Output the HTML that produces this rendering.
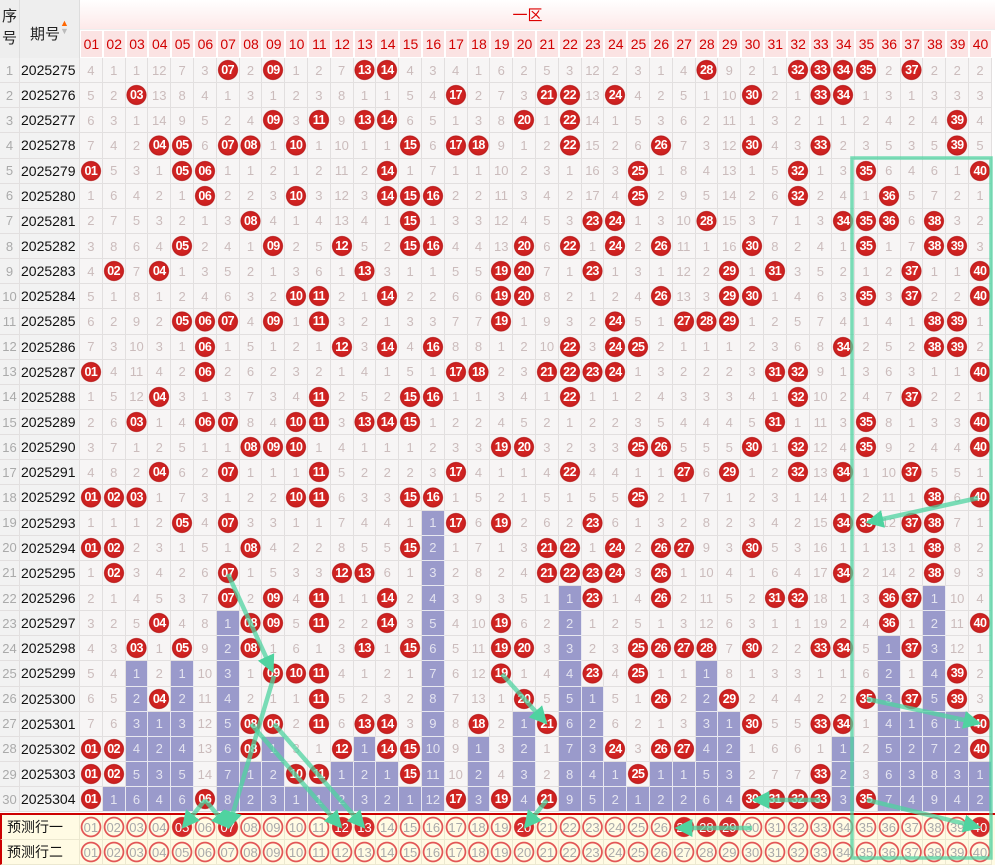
<!DOCTYPE html>
<html><head><meta charset="utf-8"><style>
*{margin:0;padding:0;box-sizing:border-box}
body{width:995px;height:862px;overflow:hidden;background:#fff;font-family:"Liberation Sans","Noto Sans CJK SC",sans-serif;position:relative}
.hd{position:absolute;left:0;top:0;width:995px;height:58px}
.h0{position:absolute;left:0;top:0;width:20px;height:58px;background:#eee;border-right:1px solid #ddd;font-size:15px;color:#222;text-align:center;line-height:22px;padding-top:6px}
.h1{position:absolute;left:20px;top:0;width:60px;height:58px;background:#eee;border-right:1px solid #ddd;font-size:15px;color:#222;padding:23px 0 0 10px}
.h1 .ar{display:inline-block;width:10px;vertical-align:top;margin-top:-4px;font-size:9px;line-height:8px}
.h2{position:absolute;left:80px;top:0;width:915px;height:30px;background:linear-gradient(#fff,#fde9e9);color:#d00;font-size:15px;text-align:center;line-height:32px;padding-right:20px;border-bottom:1px solid #eee}
.h3{position:absolute;left:80px;top:30px;width:915px;height:28px;display:grid;grid-template-columns:repeat(40,22.8px)}
.h3 span{background:#fbe3e3;border:1px solid #fff;color:#d10000;font-size:14px;text-align:center;line-height:26px}
.bd{position:absolute;left:0;top:58px;width:995px}
.r{display:grid;grid-template-columns:20px 60px repeat(40,22.8px);height:25.15px}
.r>*{display:flex;align-items:center;justify-content:center;border-right:1px solid #e2dfdf;border-bottom:1px solid #e2dfdf;background:#f7f5f5;font-size:13px;color:#cbbcbc;font-style:normal;text-decoration:none;font-weight:normal}
.r s{color:#aaa;font-size:13px;background:#f2f2f2}
.r em{color:#111;font-size:14px;background:#f2f2f2;justify-content:flex-start;padding-left:1px}
.r b{background:radial-gradient(circle,#d92b25 0,#cc2020 8.5px,#b81a1a 9.6px,rgba(0,0,0,0) 10.4px),#f7f5f5;color:#fff;font-weight:bold;font-size:12.5px;letter-spacing:-0.5px}
.r u{background:#9a9acb;color:#e4e4f0;border-right:1px solid #e8e8f0;border-bottom:1px solid #e8e8f0}
.pl{position:absolute;left:0;top:813px;width:995px;height:2px;background:#c00}
.p{position:absolute;left:0;width:995px;height:25px;display:grid;grid-template-columns:80px repeat(40,22.8px);background:#fffbe4}
.p>*{display:flex;align-items:center;justify-content:center;font-style:normal;font-size:13px;border-right:1px solid #ece8d0;border-bottom:1px solid #ece8d0}
.p i{color:#aaa;background:radial-gradient(circle,rgba(0,0,0,0) 0 8.3px,#e25656 8.8px 10px,rgba(0,0,0,0) 10.6px)}
.p b{color:#fff;font-weight:normal;background:radial-gradient(circle,#d42a2a 0 9.6px,rgba(0,0,0,0) 10.4px)}
.p span{justify-content:flex-start;padding-left:5px;color:#111;font-size:14px;border-left:2px solid #c00}
svg{position:absolute;left:0;top:0}
</style></head><body>
<div class="hd">
<div class="h0">序<br>号</div>
<div class="h1">期号<span class="ar"><span style="color:#f60">▲</span><br><span style="color:#bbb">▼</span></span></div>
<div class="h2">一区</div>
<div class="h3"><span>01</span><span>02</span><span>03</span><span>04</span><span>05</span><span>06</span><span>07</span><span>08</span><span>09</span><span>10</span><span>11</span><span>12</span><span>13</span><span>14</span><span>15</span><span>16</span><span>17</span><span>18</span><span>19</span><span>20</span><span>21</span><span>22</span><span>23</span><span>24</span><span>25</span><span>26</span><span>27</span><span>28</span><span>29</span><span>30</span><span>31</span><span>32</span><span>33</span><span>34</span><span>35</span><span>36</span><span>37</span><span>38</span><span>39</span><span>40</span></div>
</div>
<div class="bd">
<div class="r"><s>1</s><em>2025275</em><i>4</i><i>1</i><i>1</i><i>12</i><i>7</i><i>3</i><b>07</b><i>2</i><b>09</b><i>1</i><i>2</i><i>7</i><b>13</b><b>14</b><i>4</i><i>3</i><i>4</i><i>1</i><i>6</i><i>2</i><i>5</i><i>3</i><i>12</i><i>2</i><i>3</i><i>1</i><i>4</i><b>28</b><i>9</i><i>2</i><i>1</i><b>32</b><b>33</b><b>34</b><b>35</b><i>2</i><b>37</b><i>2</i><i>2</i><i>2</i></div>
<div class="r"><s>2</s><em>2025276</em><i>5</i><i>2</i><b>03</b><i>13</i><i>8</i><i>4</i><i>1</i><i>3</i><i>1</i><i>2</i><i>3</i><i>8</i><i>1</i><i>1</i><i>5</i><i>4</i><b>17</b><i>2</i><i>7</i><i>3</i><b>21</b><b>22</b><i>13</i><b>24</b><i>4</i><i>2</i><i>5</i><i>1</i><i>10</i><b>30</b><i>2</i><i>1</i><b>33</b><b>34</b><i>1</i><i>3</i><i>1</i><i>3</i><i>3</i><i>3</i></div>
<div class="r"><s>3</s><em>2025277</em><i>6</i><i>3</i><i>1</i><i>14</i><i>9</i><i>5</i><i>2</i><i>4</i><b>09</b><i>3</i><b>11</b><i>9</i><b>13</b><b>14</b><i>6</i><i>5</i><i>1</i><i>3</i><i>8</i><b>20</b><i>1</i><b>22</b><i>14</i><i>1</i><i>5</i><i>3</i><i>6</i><i>2</i><i>11</i><i>1</i><i>3</i><i>2</i><i>1</i><i>1</i><i>2</i><i>4</i><i>2</i><i>4</i><b>39</b><i>4</i></div>
<div class="r"><s>4</s><em>2025278</em><i>7</i><i>4</i><i>2</i><b>04</b><b>05</b><i>6</i><b>07</b><b>08</b><i>1</i><b>10</b><i>1</i><i>10</i><i>1</i><i>1</i><b>15</b><i>6</i><b>17</b><b>18</b><i>9</i><i>1</i><i>2</i><b>22</b><i>15</i><i>2</i><i>6</i><b>26</b><i>7</i><i>3</i><i>12</i><b>30</b><i>4</i><i>3</i><b>33</b><i>2</i><i>3</i><i>5</i><i>3</i><i>5</i><b>39</b><i>5</i></div>
<div class="r"><s>5</s><em>2025279</em><b>01</b><i>5</i><i>3</i><i>1</i><b>05</b><b>06</b><i>1</i><i>1</i><i>2</i><i>1</i><i>2</i><i>11</i><i>2</i><b>14</b><i>1</i><i>7</i><i>1</i><i>1</i><i>10</i><i>2</i><i>3</i><i>1</i><i>16</i><i>3</i><b>25</b><i>1</i><i>8</i><i>4</i><i>13</i><i>1</i><i>5</i><b>32</b><i>1</i><i>3</i><b>35</b><i>6</i><i>4</i><i>6</i><i>1</i><b>40</b></div>
<div class="r"><s>6</s><em>2025280</em><i>1</i><i>6</i><i>4</i><i>2</i><i>1</i><b>06</b><i>2</i><i>2</i><i>3</i><b>10</b><i>3</i><i>12</i><i>3</i><b>14</b><b>15</b><b>16</b><i>2</i><i>2</i><i>11</i><i>3</i><i>4</i><i>2</i><i>17</i><i>4</i><b>25</b><i>2</i><i>9</i><i>5</i><i>14</i><i>2</i><i>6</i><b>32</b><i>2</i><i>4</i><i>1</i><b>36</b><i>5</i><i>7</i><i>2</i><i>1</i></div>
<div class="r"><s>7</s><em>2025281</em><i>2</i><i>7</i><i>5</i><i>3</i><i>2</i><i>1</i><i>3</i><b>08</b><i>4</i><i>1</i><i>4</i><i>13</i><i>4</i><i>1</i><b>15</b><i>1</i><i>3</i><i>3</i><i>12</i><i>4</i><i>5</i><i>3</i><b>23</b><b>24</b><i>1</i><i>3</i><i>10</i><b>28</b><i>15</i><i>3</i><i>7</i><i>1</i><i>3</i><b>34</b><b>35</b><b>36</b><i>6</i><b>38</b><i>3</i><i>2</i></div>
<div class="r"><s>8</s><em>2025282</em><i>3</i><i>8</i><i>6</i><i>4</i><b>05</b><i>2</i><i>4</i><i>1</i><b>09</b><i>2</i><i>5</i><b>12</b><i>5</i><i>2</i><b>15</b><b>16</b><i>4</i><i>4</i><i>13</i><b>20</b><i>6</i><b>22</b><i>1</i><b>24</b><i>2</i><b>26</b><i>11</i><i>1</i><i>16</i><b>30</b><i>8</i><i>2</i><i>4</i><i>1</i><b>35</b><i>1</i><i>7</i><b>38</b><b>39</b><i>3</i></div>
<div class="r"><s>9</s><em>2025283</em><i>4</i><b>02</b><i>7</i><b>04</b><i>1</i><i>3</i><i>5</i><i>2</i><i>1</i><i>3</i><i>6</i><i>1</i><b>13</b><i>3</i><i>1</i><i>1</i><i>5</i><i>5</i><b>19</b><b>20</b><i>7</i><i>1</i><b>23</b><i>1</i><i>3</i><i>1</i><i>12</i><i>2</i><b>29</b><i>1</i><b>31</b><i>3</i><i>5</i><i>2</i><i>1</i><i>2</i><b>37</b><i>1</i><i>1</i><b>40</b></div>
<div class="r"><s>10</s><em>2025284</em><i>5</i><i>1</i><i>8</i><i>1</i><i>2</i><i>4</i><i>6</i><i>3</i><i>2</i><b>10</b><b>11</b><i>2</i><i>1</i><b>14</b><i>2</i><i>2</i><i>6</i><i>6</i><b>19</b><b>20</b><i>8</i><i>2</i><i>1</i><i>2</i><i>4</i><b>26</b><i>13</i><i>3</i><b>29</b><b>30</b><i>1</i><i>4</i><i>6</i><i>3</i><b>35</b><i>3</i><b>37</b><i>2</i><i>2</i><b>40</b></div>
<div class="r"><s>11</s><em>2025285</em><i>6</i><i>2</i><i>9</i><i>2</i><b>05</b><b>06</b><b>07</b><i>4</i><b>09</b><i>1</i><b>11</b><i>3</i><i>2</i><i>1</i><i>3</i><i>3</i><i>7</i><i>7</i><b>19</b><i>1</i><i>9</i><i>3</i><i>2</i><b>24</b><i>5</i><i>1</i><b>27</b><b>28</b><b>29</b><i>1</i><i>2</i><i>5</i><i>7</i><i>4</i><i>1</i><i>4</i><i>1</i><b>38</b><b>39</b><i>1</i></div>
<div class="r"><s>12</s><em>2025286</em><i>7</i><i>3</i><i>10</i><i>3</i><i>1</i><b>06</b><i>1</i><i>5</i><i>1</i><i>2</i><i>1</i><b>12</b><i>3</i><b>14</b><i>4</i><b>16</b><i>8</i><i>8</i><i>1</i><i>2</i><i>10</i><b>22</b><i>3</i><b>24</b><b>25</b><i>2</i><i>1</i><i>1</i><i>1</i><i>2</i><i>3</i><i>6</i><i>8</i><b>34</b><i>2</i><i>5</i><i>2</i><b>38</b><b>39</b><i>2</i></div>
<div class="r"><s>13</s><em>2025287</em><b>01</b><i>4</i><i>11</i><i>4</i><i>2</i><b>06</b><i>2</i><i>6</i><i>2</i><i>3</i><i>2</i><i>1</i><i>4</i><i>1</i><i>5</i><i>1</i><b>17</b><b>18</b><i>2</i><i>3</i><b>21</b><b>22</b><b>23</b><b>24</b><i>1</i><i>3</i><i>2</i><i>2</i><i>2</i><i>3</i><b>31</b><b>32</b><i>9</i><i>1</i><i>3</i><i>6</i><i>3</i><i>1</i><i>1</i><b>40</b></div>
<div class="r"><s>14</s><em>2025288</em><i>1</i><i>5</i><i>12</i><b>04</b><i>3</i><i>1</i><i>3</i><i>7</i><i>3</i><i>4</i><b>11</b><i>2</i><i>5</i><i>2</i><b>15</b><b>16</b><i>1</i><i>1</i><i>3</i><i>4</i><i>1</i><b>22</b><i>1</i><i>1</i><i>2</i><i>4</i><i>3</i><i>3</i><i>3</i><i>4</i><i>1</i><b>32</b><i>10</i><i>2</i><i>4</i><i>7</i><b>37</b><i>2</i><i>2</i><i>1</i></div>
<div class="r"><s>15</s><em>2025289</em><i>2</i><i>6</i><b>03</b><i>1</i><i>4</i><b>06</b><b>07</b><i>8</i><i>4</i><b>10</b><b>11</b><i>3</i><b>13</b><b>14</b><b>15</b><i>1</i><i>2</i><i>2</i><i>4</i><i>5</i><i>2</i><i>1</i><i>2</i><i>2</i><i>3</i><i>5</i><i>4</i><i>4</i><i>4</i><i>5</i><b>31</b><i>1</i><i>11</i><i>3</i><b>35</b><i>8</i><i>1</i><i>3</i><i>3</i><b>40</b></div>
<div class="r"><s>16</s><em>2025290</em><i>3</i><i>7</i><i>1</i><i>2</i><i>5</i><i>1</i><i>1</i><b>08</b><b>09</b><b>10</b><i>1</i><i>4</i><i>1</i><i>1</i><i>1</i><i>2</i><i>3</i><i>3</i><b>19</b><b>20</b><i>3</i><i>2</i><i>3</i><i>3</i><b>25</b><b>26</b><i>5</i><i>5</i><i>5</i><b>30</b><i>1</i><b>32</b><i>12</i><i>4</i><b>35</b><i>9</i><i>2</i><i>4</i><i>4</i><b>40</b></div>
<div class="r"><s>17</s><em>2025291</em><i>4</i><i>8</i><i>2</i><b>04</b><i>6</i><i>2</i><b>07</b><i>1</i><i>1</i><i>1</i><b>11</b><i>5</i><i>2</i><i>2</i><i>2</i><i>3</i><b>17</b><i>4</i><i>1</i><i>1</i><i>4</i><b>22</b><i>4</i><i>4</i><i>1</i><i>1</i><b>27</b><i>6</i><b>29</b><i>1</i><i>2</i><b>32</b><i>13</i><b>34</b><i>1</i><i>10</i><b>37</b><i>5</i><i>5</i><i>1</i></div>
<div class="r"><s>18</s><em>2025292</em><b>01</b><b>02</b><b>03</b><i>1</i><i>7</i><i>3</i><i>1</i><i>2</i><i>2</i><b>10</b><b>11</b><i>6</i><i>3</i><i>3</i><b>15</b><b>16</b><i>1</i><i>5</i><i>2</i><i>1</i><i>5</i><i>1</i><i>5</i><i>5</i><b>25</b><i>2</i><i>1</i><i>7</i><i>1</i><i>2</i><i>3</i><i>1</i><i>14</i><i>1</i><i>2</i><i>11</i><i>1</i><b>38</b><i>6</i><b>40</b></div>
<div class="r"><s>19</s><em>2025293</em><i>1</i><i>1</i><i>1</i><i>2</i><b>05</b><i>4</i><b>07</b><i>3</i><i>3</i><i>1</i><i>1</i><i>7</i><i>4</i><i>4</i><i>1</i><u>1</u><b>17</b><i>6</i><b>19</b><i>2</i><i>6</i><i>2</i><b>23</b><i>6</i><i>1</i><i>3</i><i>2</i><i>8</i><i>2</i><i>3</i><i>4</i><i>2</i><i>15</i><b>34</b><b>35</b><i>12</i><b>37</b><b>38</b><i>7</i><i>1</i></div>
<div class="r"><s>20</s><em>2025294</em><b>01</b><b>02</b><i>2</i><i>3</i><i>1</i><i>5</i><i>1</i><b>08</b><i>4</i><i>2</i><i>2</i><i>8</i><i>5</i><i>5</i><b>15</b><u>2</u><i>1</i><i>7</i><i>1</i><i>3</i><b>21</b><b>22</b><i>1</i><b>24</b><i>2</i><b>26</b><b>27</b><i>9</i><i>3</i><b>30</b><i>5</i><i>3</i><i>16</i><i>1</i><i>1</i><i>13</i><i>1</i><b>38</b><i>8</i><i>2</i></div>
<div class="r"><s>21</s><em>2025295</em><i>1</i><b>02</b><i>3</i><i>4</i><i>2</i><i>6</i><b>07</b><i>1</i><i>5</i><i>3</i><i>3</i><b>12</b><b>13</b><i>6</i><i>1</i><u>3</u><i>2</i><i>8</i><i>2</i><i>4</i><b>21</b><b>22</b><b>23</b><b>24</b><i>3</i><b>26</b><i>1</i><i>10</i><i>4</i><i>1</i><i>6</i><i>4</i><i>17</i><b>34</b><i>2</i><i>14</i><i>2</i><b>38</b><i>9</i><i>3</i></div>
<div class="r"><s>22</s><em>2025296</em><i>2</i><i>1</i><i>4</i><i>5</i><i>3</i><i>7</i><b>07</b><i>2</i><b>09</b><i>4</i><b>11</b><i>1</i><i>1</i><b>14</b><i>2</i><u>4</u><i>3</i><i>9</i><i>3</i><i>5</i><i>1</i><u>1</u><b>23</b><i>1</i><i>4</i><b>26</b><i>2</i><i>11</i><i>5</i><i>2</i><b>31</b><b>32</b><i>18</i><i>1</i><i>3</i><b>36</b><b>37</b><u>1</u><i>10</i><i>4</i></div>
<div class="r"><s>23</s><em>2025297</em><i>3</i><i>2</i><i>5</i><b>04</b><i>4</i><i>8</i><u>1</u><b>08</b><b>09</b><i>5</i><b>11</b><i>2</i><i>2</i><b>14</b><i>3</i><u>5</u><i>4</i><i>10</i><b>19</b><i>6</i><i>2</i><u>2</u><i>1</i><i>2</i><i>5</i><i>1</i><i>3</i><i>12</i><i>6</i><i>3</i><i>1</i><i>1</i><i>19</i><i>2</i><i>4</i><b>36</b><i>1</i><u>2</u><i>11</i><b>40</b></div>
<div class="r"><s>24</s><em>2025298</em><i>4</i><i>3</i><b>03</b><i>1</i><b>05</b><i>9</i><u>2</u><b>08</b><i>1</i><i>6</i><i>1</i><i>3</i><b>13</b><i>1</i><b>15</b><u>6</u><i>5</i><i>11</i><b>19</b><b>20</b><i>3</i><u>3</u><i>2</i><i>3</i><b>25</b><b>26</b><b>27</b><b>28</b><i>7</i><b>30</b><i>2</i><i>2</i><b>33</b><b>34</b><i>5</i><u>1</u><b>37</b><u>3</u><i>12</i><i>1</i></div>
<div class="r"><s>25</s><em>2025299</em><i>5</i><i>4</i><u>1</u><i>2</i><u>1</u><i>10</i><u>3</u><i>1</i><b>09</b><b>10</b><b>11</b><i>4</i><i>1</i><i>2</i><i>1</i><u>7</u><i>6</i><i>12</i><b>19</b><i>1</i><i>4</i><u>4</u><b>23</b><i>4</i><b>25</b><i>1</i><i>1</i><u>1</u><i>8</i><i>1</i><i>3</i><i>3</i><i>1</i><i>1</i><i>6</i><u>2</u><i>1</i><u>4</u><b>39</b><i>2</i></div>
<div class="r"><s>26</s><em>2025300</em><i>6</i><i>5</i><u>2</u><b>04</b><u>2</u><i>11</i><u>4</u><i>2</i><i>1</i><i>1</i><b>11</b><i>5</i><i>2</i><i>3</i><i>2</i><u>8</u><i>7</i><i>13</i><i>1</i><b>20</b><i>5</i><u>5</u><u>1</u><i>5</i><i>1</i><b>26</b><i>2</i><u>2</u><b>29</b><i>2</i><i>4</i><i>4</i><i>2</i><i>2</i><b>35</b><u>3</u><b>37</b><u>5</u><b>39</b><i>3</i></div>
<div class="r"><s>27</s><em>2025301</em><i>7</i><i>6</i><u>3</u><u>1</u><u>3</u><i>12</i><u>5</u><b>08</b><b>09</b><i>2</i><b>11</b><i>6</i><b>13</b><b>14</b><i>3</i><u>9</u><i>8</i><b>18</b><i>2</i><u>1</u><b>21</b><u>6</u><u>2</u><i>6</i><i>2</i><i>1</i><i>3</i><u>3</u><u>1</u><b>30</b><i>5</i><i>5</i><b>33</b><b>34</b><i>1</i><u>4</u><u>1</u><u>6</u><u>1</u><b>40</b></div>
<div class="r"><s>28</s><em>2025302</em><b>01</b><b>02</b><u>4</u><u>2</u><u>4</u><i>13</i><u>6</u><b>08</b><u>1</u><i>3</i><i>1</i><b>12</b><u>1</u><b>14</b><b>15</b><u>10</u><i>9</i><u>1</u><i>3</i><u>2</u><i>1</i><u>7</u><u>3</u><b>24</b><i>3</i><b>26</b><b>27</b><u>4</u><u>2</u><i>1</i><i>6</i><i>6</i><i>1</i><u>1</u><i>2</i><u>5</u><u>2</u><u>7</u><u>2</u><b>40</b></div>
<div class="r"><s>29</s><em>2025303</em><b>01</b><b>02</b><u>5</u><u>3</u><u>5</u><i>14</i><u>7</u><u>1</u><u>2</u><b>10</b><b>11</b><u>1</u><u>2</u><u>1</u><b>15</b><u>11</u><i>10</i><u>2</u><i>4</i><u>3</u><i>2</i><u>8</u><u>4</u><u>1</u><b>25</b><u>1</u><u>1</u><u>5</u><u>3</u><i>2</i><i>7</i><i>7</i><b>33</b><u>2</u><i>3</i><u>6</u><u>3</u><u>8</u><u>3</u><u>1</u></div>
<div class="r"><s>30</s><em>2025304</em><b>01</b><u>1</u><u>6</u><u>4</u><u>6</u><b>06</b><u>8</u><u>2</u><u>3</u><u>1</u><u>1</u><u>2</u><u>3</u><u>2</u><u>1</u><u>12</u><b>17</b><u>3</u><b>19</b><u>4</u><b>21</b><u>9</u><u>5</u><u>2</u><u>1</u><u>2</u><u>2</u><u>6</u><u>4</u><b>30</b><b>31</b><b>32</b><b>33</b><u>3</u><b>35</b><u>7</u><u>4</u><u>9</u><u>4</u><u>2</u></div>
</div>
<div class="pl"></div>
<div class="p" style="top:815px"><span>预测行一</span><i>01</i><i>02</i><i>03</i><i>04</i><b>05</b><i>06</i><b>07</b><i>08</i><i>09</i><i>10</i><i>11</i><b>12</b><b>13</b><i>14</i><i>15</i><i>16</i><i>17</i><i>18</i><i>19</i><b>20</b><i>21</i><i>22</i><i>23</i><i>24</i><i>25</i><i>26</i><b>27</b><b>28</b><b>29</b><i>30</i><i>31</i><i>32</i><i>33</i><i>34</i><i>35</i><i>36</i><i>37</i><i>38</i><i>39</i><b>40</b></div>
<div class="p" style="top:840px"><span>预测行二</span><i>01</i><i>02</i><i>03</i><i>04</i><i>05</i><i>06</i><i>07</i><i>08</i><i>09</i><i>10</i><i>11</i><i>12</i><i>13</i><i>14</i><i>15</i><i>16</i><i>17</i><i>18</i><i>19</i><i>20</i><i>21</i><i>22</i><i>23</i><i>24</i><i>25</i><i>26</i><i>27</i><i>28</i><i>29</i><i>30</i><i>31</i><i>32</i><i>33</i><i>34</i><i>35</i><i>36</i><i>37</i><i>38</i><i>39</i><i>40</i></div>
<svg width="995" height="862" viewBox="0 0 995 862">
<defs><marker id="a" viewBox="0 0 10 10" refX="8" refY="5" markerWidth="4" markerHeight="4" orient="auto"><path d="M0 0L10 5L0 10z" fill="#4fd3a0"/></marker></defs>
<g stroke="#4fd3a0" stroke-width="4.5" stroke-opacity="0.75" fill="none" marker-end="url(#a)">
<line x1="228" y1="574" x2="272" y2="670"/>
<line x1="274" y1="676" x2="229" y2="826"/>
<line x1="251" y1="724" x2="340" y2="826"/>
<line x1="274" y1="724" x2="363" y2="826"/>
<line x1="205" y1="800" x2="184" y2="826"/>
<line x1="205" y1="800" x2="227" y2="826"/>
<line x1="502" y1="674" x2="545" y2="722"/>
<line x1="547" y1="800" x2="526" y2="826"/>
<line x1="978" y1="498" x2="869" y2="522"/>
<line x1="867" y1="699" x2="978" y2="723"/>
<line x1="867" y1="800" x2="978" y2="827"/>
<line x1="821" y1="800" x2="755" y2="800"/>
<line x1="752" y1="828" x2="678" y2="828"/>
</g>
<rect x="852" y="158" width="139" height="700" fill="none" stroke="#4fd3a0" stroke-width="3.5" stroke-opacity="0.75"/>
</svg>
</body></html>
